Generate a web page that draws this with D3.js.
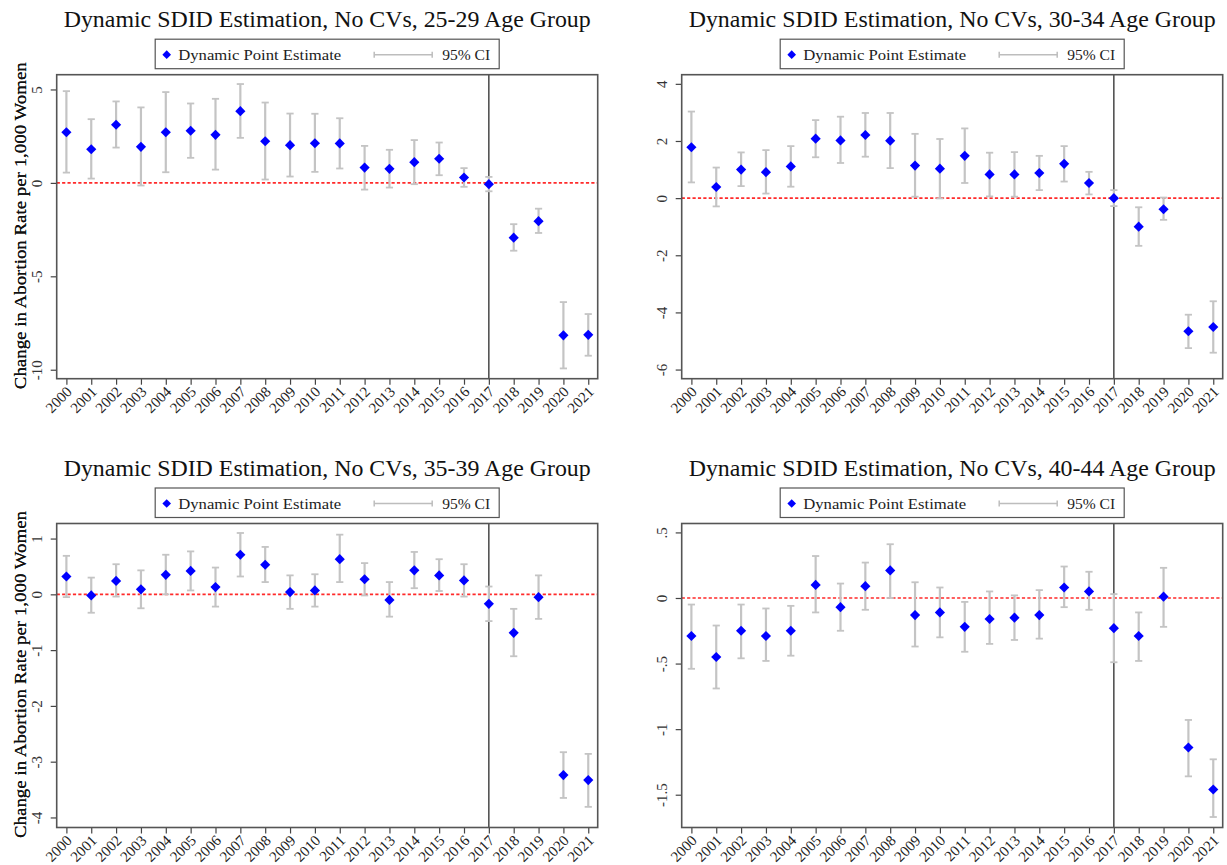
<!DOCTYPE html>
<html>
<head>
<meta charset="utf-8">
<script src="https://cdn.jsdelivr.net/npm/d3@7/dist/d3.min.js"></script>
<style>
  html, body { margin: 0; padding: 0; background: #fff; }
  svg { display: block; }
  text { font-family: "Liberation Serif", "DejaVu Serif", serif; fill: #222; }
</style>
</head>
<body>
<svg id="chart" width="1227" height="865"></svg>
<script>
// Event years
const years = [2000, 2001, 2002, 2003, 2004, 2005, 2006, 2007, 2008, 2009, 2010,
               2011, 2012, 2013, 2014, 2015, 2016, 2017, 2018, 2019, 2020, 2021];

// 25-29 age group: point estimates and 95% CI bounds
const est2529 = [2.71, 1.80, 3.11, 1.93, 2.71, 2.79, 2.57, 3.84, 2.23, 2.02, 2.12,
                 2.11, 0.82, 0.75, 1.11, 1.29, 0.29, -0.07, -2.93, -2.05, -8.16, -8.13];
const lo2529  = [0.55, 0.23, 1.89, -0.14, 0.57, 1.34, 0.71, 2.41, 0.18, 0.34, 0.59,
                 0.77, -0.36, -0.25, -0.07, 0.41, -0.21, -0.45, -3.63, -2.68, -9.93, -9.25];
const hi2529  = [4.91, 3.41, 4.36, 4.04, 4.86, 4.25, 4.50, 5.29, 4.30, 3.71, 3.70,
                 3.46, 1.98, 1.77, 2.29, 2.16, 0.79, 0.32, -2.21, -1.38, -6.38, -7.02];

// 30-34 age group
const est3034 = [1.78, 0.39, 1.00, 0.91, 1.11, 2.08, 2.02, 2.21, 2.01, 1.14, 1.03,
                 1.48, 0.83, 0.83, 0.88, 1.20, 0.53, 0.00, -1.00, -0.39, -4.66, -4.51];
const lo3034  = [0.55, -0.29, 0.42, 0.16, 0.40, 1.43, 1.23, 1.45, 1.05, 0.05, -0.01,
                 0.53, 0.06, 0.05, 0.28, 0.58, 0.13, -0.28, -1.67, -0.76, -5.25, -5.41];
const hi3034  = [3.03, 1.07, 1.60, 1.68, 1.82, 2.73, 2.85, 2.98, 2.98, 2.25, 2.07,
                 2.44, 1.59, 1.61, 1.48, 1.82, 0.92, 0.28, -0.32, 0.02, -4.08, -3.61];

// 35-39 age group
const est3539 = [0.32, -0.02, 0.24, 0.09, 0.35, 0.42, 0.13, 0.71, 0.53, 0.04, 0.07,
                 0.63, 0.27, -0.10, 0.43, 0.34, 0.25, -0.17, -0.69, -0.05, -3.24, -3.33];
const lo3539  = [-0.05, -0.33, -0.04, -0.25, 0.00, 0.07, -0.22, 0.32, 0.22, -0.26, -0.22,
                 0.22, -0.02, -0.40, 0.11, 0.06, -0.04, -0.48, -1.11, -0.44, -3.65, -3.81];
const hi3539  = [0.69, 0.30, 0.54, 0.43, 0.71, 0.77, 0.48, 1.10, 0.85, 0.34, 0.36,
                 1.07, 0.56, 0.22, 0.76, 0.63, 0.54, 0.14, -0.26, 0.34, -2.83, -2.86];

// 40-44 age group
const est4044 = [-0.29, -0.45, -0.25, -0.29, -0.25, 0.10, -0.07, 0.09, 0.21, -0.13, -0.11,
                 -0.22, -0.16, -0.15, -0.13, 0.08, 0.05, -0.23, -0.29, 0.01, -1.14, -1.46];
const lo4044  = [-0.54, -0.69, -0.46, -0.48, -0.44, -0.11, -0.25, -0.09, 0.00, -0.37, -0.30,
                 -0.41, -0.35, -0.32, -0.31, -0.07, -0.09, -0.49, -0.48, -0.22, -1.36, -1.67];
const hi4044  = [-0.05, -0.21, -0.05, -0.08, -0.06, 0.32, 0.11, 0.27, 0.41, 0.12, 0.08,
                 -0.03, 0.05, 0.02, 0.06, 0.24, 0.20, 0.03, -0.11, 0.23, -0.93, -1.23];

// Panel titles, y-axis ticks and value ranges
const titles = [
  "Dynamic SDID Estimation, No CVs, 25-29 Age Group",
  "Dynamic SDID Estimation, No CVs, 30-34 Age Group",
  "Dynamic SDID Estimation, No CVs, 35-39 Age Group",
  "Dynamic SDID Estimation, No CVs, 40-44 Age Group"
];
const yTicks2529 = [-10, -5, 0, 5];
const yTicks3034 = [-6, -4, -2, 0, 2, 4];
const yTicks3539 = [-4, -3, -2, -1, 0, 1];
const yTicks4044 = [-1.5, -1, -0.5, 0, 0.5];
const yRanges = [[-10.48, 5.79], [-6.32, 4.32], [-4.18, 1.27], [-1.75, 0.568]];
const xRange = [1999.61, 2021.38];
const treatYear = 2017;
const yLabel = "Change in Abortion Rate per 1,000 Women";
const legendPoint = "Dynamic Point Estimate";
const legendCI = "95% CI";

const series = [
  { est: est2529, lo: lo2529, hi: hi2529, ticks: yTicks2529 },
  { est: est3034, lo: lo3034, hi: hi3034, ticks: yTicks3034 },
  { est: est3539, lo: lo3539, hi: hi3539, ticks: yTicks3539 },
  { est: est4044, lo: lo4044, hi: hi4044, ticks: yTicks4044 }
];

// Grid layout of the four plot regions
const plotW = 541, plotH = 304;
const colX = [56.7, 681.7];
const rowY = [74.7, 523.5];

// Stata-style tick labels: ".5", "-.5", "-1.5"
const fmtTick = v => {
  if (v === 0) return "0";
  return String(v).replace(/^(-?)0\./, "$1.");
};

const svg = d3.select("#chart");

series.forEach((s, i) => {
  const x0 = colX[i % 2];
  const y0 = rowY[Math.floor(i / 2)];
  const g = svg.append("g").attr("transform", `translate(${x0},${y0})`);

  const x = d3.scaleLinear().domain(xRange).range([0, plotW]);
  const y = d3.scaleLinear().domain(yRanges[i]).range([plotH, 0]);
  const cx = plotW / 2;

  // Title
  g.append("text")
    .attr("x", cx).attr("y", -48)
    .attr("text-anchor", "middle")
    .attr("font-size", 23)
    .attr("textLength", 527)
    .attr("lengthAdjust", "spacingAndGlyphs")
    .style("fill", "#111")
    .text(titles[i]);

  // Legend
  const lg = g.append("g").attr("transform", `translate(${cx - 172},-35.5)`);
  lg.append("rect")
    .attr("x", 0).attr("y", 0).attr("width", 344).attr("height", 29.5)
    .attr("fill", "#fff").attr("stroke", "#555").attr("stroke-width", 1.2);
  lg.append("path")
    .attr("d", d3.symbol(d3.symbolDiamond2, 48)())
    .attr("transform", "translate(11.5,15.5)")
    .attr("fill", "#0000ff");
  lg.append("text")
    .attr("x", 23).attr("y", 20.5)
    .attr("font-size", 15.5)
    .attr("textLength", 163).attr("lengthAdjust", "spacingAndGlyphs")
    .text(legendPoint);
  lg.append("line")
    .attr("x1", 219).attr("x2", 277).attr("y1", 15.5).attr("y2", 15.5)
    .attr("stroke", "#bdbdbd").attr("stroke-width", 1.5);
  [219, 277].forEach(px => lg.append("line")
    .attr("x1", px).attr("x2", px).attr("y1", 12.5).attr("y2", 18.5)
    .attr("stroke", "#bdbdbd").attr("stroke-width", 1.5));
  lg.append("text")
    .attr("x", 287).attr("y", 20.5)
    .attr("font-size", 15.5)
    .attr("textLength", 48).attr("lengthAdjust", "spacingAndGlyphs")
    .text(legendCI);

  // Y axis
  const yAxis = g.append("g")
    .call(d3.axisLeft(y).tickValues(s.ticks).tickFormat(fmtTick).tickSize(6).tickPadding(0));
  yAxis.select(".domain").remove();
  yAxis.selectAll(".tick line").attr("stroke", "#444").attr("stroke-width", 1.2);
  yAxis.selectAll(".tick text")
    .attr("x", null).attr("dy", null)
    .attr("transform", "translate(-14.5,0) rotate(-90)")
    .attr("text-anchor", "middle")
    .attr("font-family", "Liberation Serif, serif")
    .attr("font-size", 15)
    .style("fill", "#333");

  // Y axis title
  g.append("text")
    .attr("transform", `translate(${-x0 + 25.5},${plotH / 2 - 1}) rotate(-90)`)
    .attr("text-anchor", "middle")
    .attr("font-size", 17.5)
    .attr("textLength", 327)
    .attr("lengthAdjust", "spacingAndGlyphs")
    .style("fill", "#111")
    .text(yLabel);

  // X axis
  const xAxis = g.append("g").attr("transform", `translate(0,${plotH})`)
    .call(d3.axisBottom(x).tickValues(years).tickFormat(d3.format("d")).tickSize(6).tickPadding(0));
  xAxis.select(".domain").remove();
  xAxis.selectAll(".tick line").attr("stroke", "#444").attr("stroke-width", 1.2);
  xAxis.selectAll(".tick text")
    .attr("y", null).attr("dy", null)
    .attr("transform", "translate(6,14) rotate(-45)")
    .attr("text-anchor", "end")
    .attr("font-family", "Liberation Serif, serif")
    .attr("font-size", 15)
    .style("fill", "#222");

  // Zero reference line
  g.append("line")
    .attr("x1", 0).attr("x2", plotW).attr("y1", y(0)).attr("y2", y(0))
    .attr("stroke", "#ff2a2a").attr("stroke-width", 1.6)
    .attr("stroke-dasharray", "3.2,2.2");

  // Treatment year marker
  g.append("line")
    .attr("x1", x(treatYear)).attr("x2", x(treatYear)).attr("y1", 0).attr("y2", plotH)
    .attr("stroke", "#2b2b2b").attr("stroke-width", 1.3);

  // Confidence intervals
  const ci = g.append("g");
  years.forEach((yr, j) => {
    const px = x(yr);
    ci.append("line")
      .attr("x1", px).attr("x2", px).attr("y1", y(s.lo[j])).attr("y2", y(s.hi[j]))
      .attr("stroke", "#c4c4c4").attr("stroke-width", 2.2);
    [s.lo[j], s.hi[j]].forEach(v => ci.append("line")
      .attr("x1", px - 3.6).attr("x2", px + 3.6).attr("y1", y(v)).attr("y2", y(v))
      .attr("stroke", "#c4c4c4").attr("stroke-width", 1.8));
  });

  // Point estimates
  g.append("g").selectAll("path")
    .data(years.map((yr, j) => [yr, s.est[j]]))
    .join("path")
    .attr("d", d3.symbol(d3.symbolDiamond2, 66)())
    .attr("transform", d => `translate(${x(d[0])},${y(d[1])})`)
    .attr("fill", "#0000ff");

  // Plot frame
  g.append("rect")
    .attr("x", 0).attr("y", 0).attr("width", plotW).attr("height", plotH)
    .attr("fill", "none").attr("stroke", "#555").attr("stroke-width", 1.6);
});
</script>
</body>
</html>
